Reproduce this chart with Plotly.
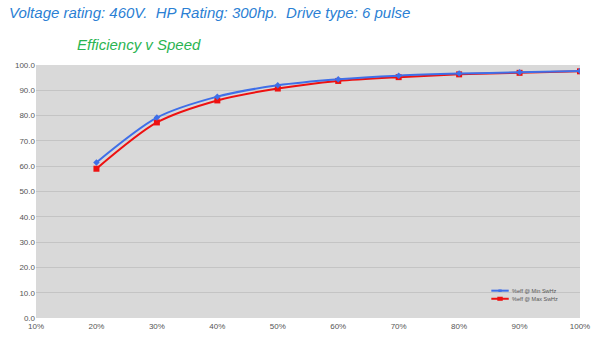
import plotly.graph_objects as go

speed = [20, 30, 40, 50, 60, 70, 80, 90, 100]
eff_min_sw = [61.5, 79.2, 87.5, 92.0, 94.4, 95.8, 96.6, 97.1, 97.6]
eff_max_sw = [59.0, 77.3, 86.0, 90.7, 93.7, 95.2, 96.3, 96.9, 97.5]
x_ticks = [10, 20, 30, 40, 50, 60, 70, 80, 90, 100]
y_ticks = [0, 10, 20, 30, 40, 50, 60, 70, 80, 90, 100]
series_names = ["%eff @ Min SwHz", "%eff @ Max SwHz"]
series_colors = ["#3f6fe8", "#ee1111"]

FONT = "Liberation Sans, Arial"

fig = go.Figure()
fig.add_trace(go.Scatter(
    x=speed, y=eff_max_sw, name=series_names[1], mode="lines+markers",
    line=dict(color=series_colors[1], width=2, shape="spline", smoothing=0.8),
    marker=dict(symbol="square", size=6, color=series_colors[1]),
))
fig.add_trace(go.Scatter(
    x=speed, y=eff_min_sw, name=series_names[0], mode="lines+markers",
    line=dict(color=series_colors[0], width=2, shape="spline", smoothing=0.8),
    marker=dict(symbol="diamond", size=5, color=series_colors[0]),
))

fig.update_layout(
    width=609, height=345,
    margin=dict(l=36, r=29, t=65, b=27),
    paper_bgcolor="white", plot_bgcolor="#d9d9d9",
    showlegend=False,
    font=dict(family=FONT, color="#555555"),
)
fig.update_xaxes(
    range=[10, 100], tickvals=x_ticks, ticktext=[f"{v}%" for v in x_ticks],
    showgrid=False, zeroline=False, showline=False,
    tickfont=dict(size=8, color="#555555"), ticks="", ticklabelstandoff=2,
)
fig.update_yaxes(
    range=[0, 100], tickvals=y_ticks, ticktext=[f"{v:.1f}" for v in y_ticks],
    showgrid=True, gridcolor="#c4c4c4", gridwidth=1, zeroline=False,
    showline=False, tickfont=dict(size=8, color="#555555"), ticks="",
)

# compact legend in the lower-right corner of the plot area
leg_x0, leg_x1 = 0.837, 0.869
marker_half = [0.003, 0.005]
for i, (name, color) in enumerate(zip(series_names, series_colors)):
    ly = 0.108 - i * 0.032
    fig.add_shape(type="line", xref="paper", yref="paper",
                  x0=leg_x0, x1=leg_x1, y0=ly, y1=ly,
                  line=dict(color=color, width=2))
    mx = (leg_x0 + leg_x1) / 2
    h = marker_half[i]
    fig.add_shape(type="rect", xref="paper", yref="paper",
                  x0=mx - h, x1=mx + h, y0=ly - h * 1.6, y1=ly + h * 1.6,
                  fillcolor=color, line=dict(width=0))
    fig.add_annotation(text=name, xref="paper", yref="paper",
                       x=leg_x1 + 0.003, y=ly, xanchor="left", yanchor="middle",
                       showarrow=False,
                       font=dict(family=FONT, size=5.5, color="#555555"))

fig.add_annotation(
    text="Voltage rating: 460V.  HP Rating: 300hp.  Drive type: 6 pulse",
    xref="paper", yref="paper", x=-0.053, y=1.0, yshift=53,
    xanchor="left", yanchor="middle", showarrow=False,
    font=dict(family=FONT, size=15, color="#2b7fd4", style="italic"),
)
fig.add_annotation(
    text="Efficiency v Speed",
    xref="paper", yref="paper", x=0.072, y=1.0, yshift=21,
    xanchor="left", yanchor="middle", showarrow=False,
    font=dict(family=FONT, size=15, color="#2ab451", style="italic"),
)

fig.write_html("out.html")
